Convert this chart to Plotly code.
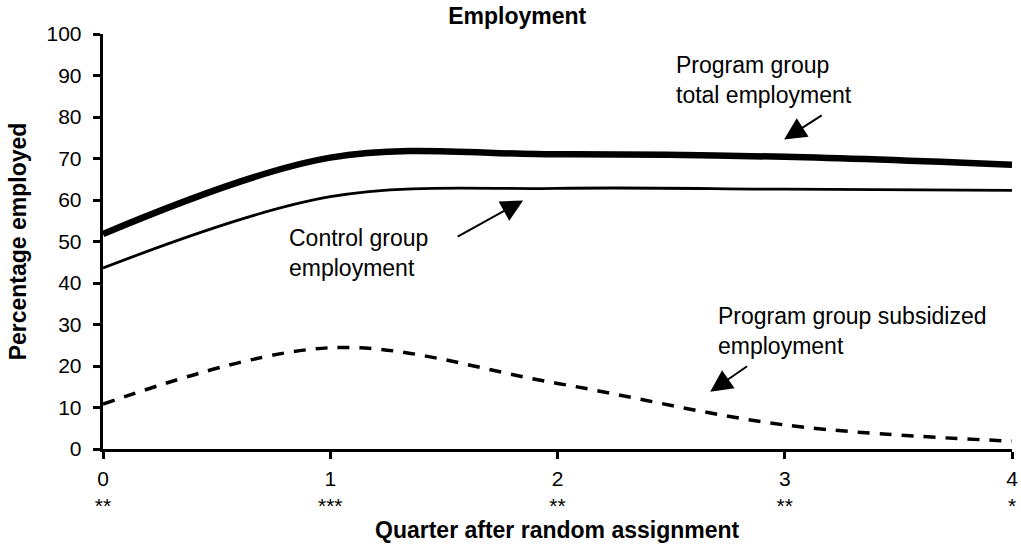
import plotly.graph_objects as go

quarters = [0, 1, 2, 3, 4]
program_total = [51.8, 70.2, 71.0, 70.4, 68.5]
control = [43.6, 60.8, 62.8, 62.6, 62.3]
program_subsidized = [10.8, 24.4, 15.8, 5.8, 1.9]
significance = ["**", "***", "**", "**", "*"]
y_ticks = list(range(0, 101, 10))

FONT = "Arial, Liberation Sans, sans-serif"

fig = go.Figure()
fig.add_trace(go.Scatter(x=quarters, y=program_total, mode="lines",
                         line=dict(color="black", width=6.5, shape="spline", smoothing=1),
                         name="Program group total employment", showlegend=False))
fig.add_trace(go.Scatter(x=quarters, y=control, mode="lines",
                         line=dict(color="black", width=2.8, shape="spline", smoothing=1),
                         name="Control group employment", showlegend=False))
fig.add_trace(go.Scatter(x=quarters, y=program_subsidized, mode="lines",
                         line=dict(color="black", width=3.5, shape="spline", smoothing=1,
                                   dash="12px,10px"),
                         name="Program group subsidized employment", showlegend=False))

annotations = []
# text labels
annotations.append(dict(x=2.513, y=88.8, xref="x", yref="y", text="Program group<br>total employment",
                        showarrow=False, xanchor="left", yanchor="middle", align="left",
                        font=dict(family=FONT, size=23, color="black")))
annotations.append(dict(x=0.81, y=47.2, xref="x", yref="y", text="Control group<br>employment",
                        showarrow=False, xanchor="left", yanchor="middle", align="left",
                        font=dict(family=FONT, size=23, color="black")))
annotations.append(dict(x=2.698, y=28.4, xref="x", yref="y", text="Program group subsidized<br>employment",
                        showarrow=False, xanchor="left", yanchor="middle", align="left",
                        font=dict(family=FONT, size=23, color="black")))
# arrows
for (hx, hy, tx, ty) in [(2.997, 74.6, 3.169, 80.6), (1.849, 59.9, 1.554, 51.0), (2.672, 13.8, 2.841, 20.2)]:
    annotations.append(dict(x=hx, y=hy, ax=tx, ay=ty, xref="x", yref="y", axref="x", ayref="y",
                            text="", showarrow=True, arrowhead=2, arrowsize=2.2, arrowwidth=2,
                            arrowcolor="black", standoff=0, startstandoff=0))
# x-axis title
annotations.append(dict(x=0.5, y=-0.195, xref="paper", yref="paper",
                        text="<b>Quarter after random assignment</b>", showarrow=False,
                        xanchor="center", yanchor="middle",
                        font=dict(family=FONT, size=23, color="black")))

x_ticktext = [f"{q}<br>{s}" for q, s in zip(quarters, significance)]

fig.update_layout(
    width=1021, height=544, autosize=False,
    margin=dict(l=102.7, r=9, t=33.5, b=95, pad=0),
    paper_bgcolor="white", plot_bgcolor="white",
    font=dict(family=FONT, color="black"),
    title=dict(text="<b>Employment</b>", x=0.5066, xref="container", xanchor="center",
               y=0.97, yref="container", yanchor="middle",
               font=dict(family=FONT, size=23, color="black")),
    xaxis=dict(range=[0, 4], tickvals=quarters, ticktext=x_ticktext,
               showline=True, linecolor="black", linewidth=2.5, ticks="outside", ticklen=7,
               tickwidth=2.5, tickcolor="black", showgrid=False, zeroline=False,
               automargin=False, ticklabelstandoff=2,
               tickfont=dict(family=FONT, size=21, color="black")),
    yaxis=dict(range=[0, 100], tickvals=y_ticks, showline=True, linecolor="black", linewidth=2.5,
               ticks="outside", ticklen=7.5, tickwidth=2.5, tickcolor="black", showgrid=False,
               zeroline=False, automargin=False, ticklabelstandoff=7,
               tickfont=dict(family=FONT, size=21, color="black"),
               title=dict(text="<b>Percentage employed</b>", standoff=14,
                          font=dict(family=FONT, size=23, color="black"))),
    annotations=annotations,
)

fig.write_html("out.html", config={"displayModeBar": False},
               post_script="document.body.style.margin='0px';")
